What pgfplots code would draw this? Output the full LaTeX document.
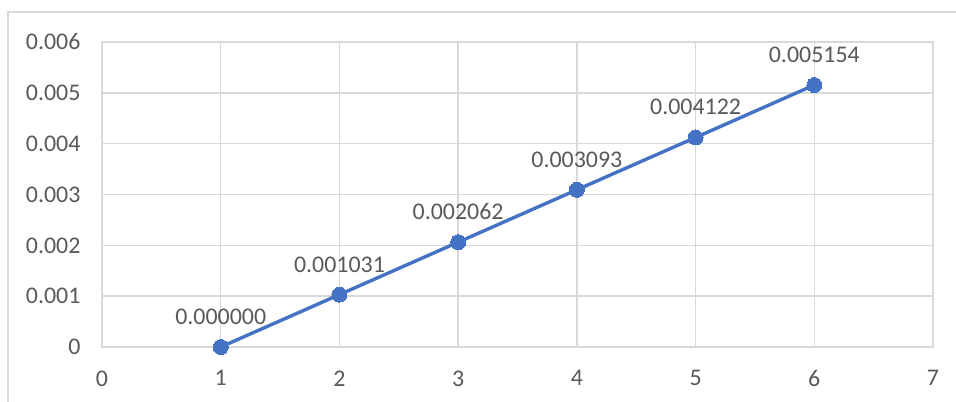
\documentclass[border=0pt]{standalone}
\usepackage{pgfplots}
\pgfplotsset{compat=1.18}
\usepackage{fontspec}
\setmainfont{Carlito}
\definecolor{gridc}{HTML}{D9D9D9}
\definecolor{txt}{HTML}{595959}
\definecolor{ser}{HTML}{4472C4}
\begin{document}
\begin{tikzpicture}[x=1bp,y=1bp]
\path[use as bounding box] (0,0) rectangle (956,-401);
\draw[gridc, line width=1.5bp] (8,-405) -- (8,-12) -- (960,-12);
\begin{axis}[
  at={(102bp,-347bp)}, anchor=south west,
  scale only axis, width=831bp, height=305bp,
  xmin=0, xmax=7, ymin=0, ymax=0.006,
  xtick={0,1,2,3,4,5,6,7},
  ytick={0,0.001,0.002,0.003,0.004,0.005,0.006},
  yticklabels={0,0.001,0.002,0.003,0.004,0.005,0.006},
  scaled y ticks=false,
  grid=major, grid style={gridc, line width=1.5bp},
  axis line style={gridc, line width=1.5bp},
  major tick length=0pt, tick style={draw=none},
  tick label style={font=\fontsize{24}{28}\selectfont, text=txt},
  /pgf/number format/assume math mode=true,
  yticklabel style={anchor=east, xshift=-18bp},
  xticklabel style={anchor=north, yshift=-20bp},
  clip=false,
]
\addplot[ser, line width=3.4bp, mark=*, mark size=7.5bp, mark options={fill=ser, draw=ser, line width=0pt},
  nodes near coords, point meta=explicit symbolic,
  every node near coord/.append style={anchor=south, yshift=19bp, font=\fontsize{24}{28}\selectfont, text=txt}]
  table[meta=label] {
x y label
1 0 0.000000
2 0.001031 0.001031
3 0.002062 0.002062
4 0.003093 0.003093
5 0.004122 0.004122
6 0.005154 0.005154
};
\end{axis}
\end{tikzpicture}
\end{document}
